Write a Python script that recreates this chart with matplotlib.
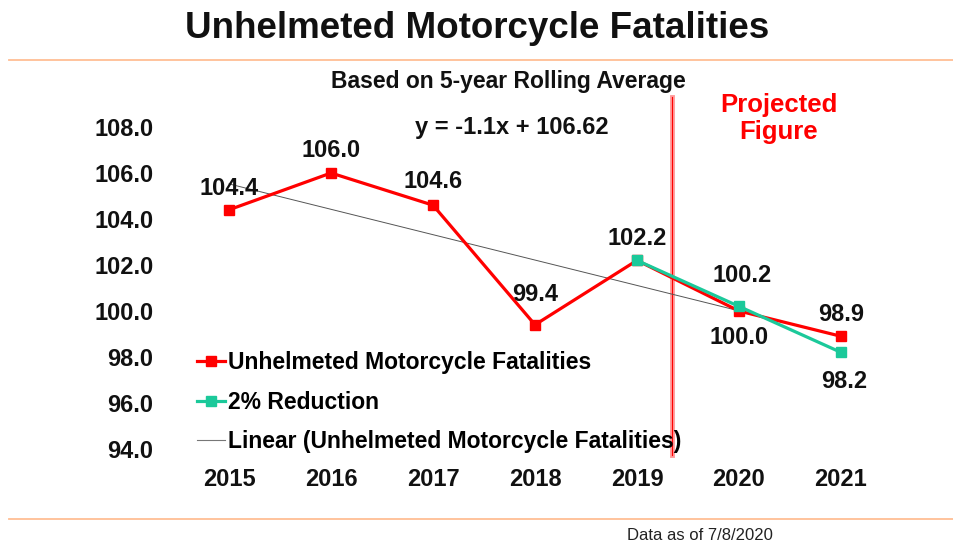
import matplotlib
matplotlib.use('Agg')
import matplotlib.pyplot as plt
import numpy as np
from matplotlib.lines import Line2D

plt.rcParams['font.family'] = ['Liberation Sans', 'DejaVu Sans']

years = [2015, 2016, 2017, 2018, 2019, 2020, 2021]
fatalities = [104.4, 106.0, 104.6, 99.4, 102.2, 100.0, 98.9]
red_years = [2019, 2020, 2021]
reduction = [102.2, 100.2, 98.2]
y_ticks = [94.0, 96.0, 98.0, 100.0, 102.0, 104.0, 106.0, 108.0]

RED = '#FF0000'
TEAL = '#1BC99A'
ORANGE = '#FFBE94'

fig = plt.figure(figsize=(9.54, 5.46), dpi=100)
ax = fig.add_axes([0.1973, 0.1777, 0.727, 0.5897])

# linear trend fitted on the red series (x = 1..7 as in the spreadsheet)
xs = np.arange(1, len(years) + 1)
slope, icpt = np.polyfit(xs, fatalities, 1)
ax.plot(years, slope * xs + icpt, color='#555555', lw=0.7, zorder=2)

ax.plot(years, fatalities, color=RED, lw=2.3, marker='s', ms=6.5, zorder=3)
ax.plot(red_years, reduction, color=TEAL, lw=2.3, marker='s', ms=6.5, zorder=4)

# data labels
lab_kw = dict(textcoords='offset points', ha='center', va='center',
              fontsize=17, fontweight='bold', color='#111111', zorder=6)
above = [15, 16, 17, 22, 16, None, 16]
for yr, v, off in zip(years, fatalities, above):
    if off is None:
        ax.annotate(f'{v:.1f}', (yr, v), xytext=(0, -19), **lab_kw)
    else:
        ax.annotate(f'{v:.1f}', (yr, v), xytext=(0, off), **lab_kw)
ax.annotate(f'{reduction[1]:.1f}', (red_years[1], reduction[1]), xytext=(2, 22), **lab_kw)
ax.annotate(f'{reduction[2]:.1f}', (red_years[2], reduction[2]), xytext=(2, -21), **lab_kw)

# projected divider
xdiv = 2019.343
ax.plot([xdiv, xdiv], [93.74, 109.3], color='#FF9A9A', lw=3.5, clip_on=False, zorder=1)
ax.plot([xdiv, xdiv], [93.74, 109.3], color=RED, lw=0.8, clip_on=False, zorder=1)

ax.set_xlim(2014.6, 2021.4)
ax.set_ylim(94, 108)
ax.set_xticks(years)
ax.set_xticklabels([str(y) for y in years])
ax.set_yticks(y_ticks)
ax.set_yticklabels([f'{t:.1f}' for t in y_ticks])
ax.tick_params(length=0, labelsize=17, colors='#111111')
ax.tick_params(axis='y', pad=25)
ax.tick_params(axis='x', pad=14)
for lbl in ax.get_xticklabels() + ax.get_yticklabels():
    lbl.set_fontweight('bold')
for s in ax.spines.values():
    s.set_visible(False)

handles = [
    Line2D([], [], color=RED, lw=2.3, marker='s', ms=6.5),
    Line2D([], [], color=TEAL, lw=2.3, marker='s', ms=6.5),
    Line2D([], [], color='#777777', lw=0.8),
]
labels = ['Unhelmeted Motorcycle Fatalities', '2% Reduction',
          'Linear (Unhelmeted Motorcycle Fatalities)']
fig.legend(handles, labels, loc='upper left', bbox_to_anchor=(0.207, 0.357),
           bbox_transform=fig.transFigure, frameon=False, borderpad=0,
           borderaxespad=0, handlelength=1.2, handletextpad=0.12,
           labelspacing=0.72, prop={'size': 16.5, 'weight': 'bold'})

fig.text(0.5, 0.947, 'Unhelmeted Motorcycle Fatalities', ha='center', va='center',
         fontsize=26.5, fontweight='bold', color='#111111')
fig.text(0.533, 0.851, 'Based on 5-year Rolling Average', ha='center', va='center',
         fontsize=16.5, fontweight='bold', color='#111111')
fig.text(0.537, 0.767, 'y = -1.1x + 106.62', ha='center', va='center',
         fontsize=17, fontweight='bold', color='#111111')
fig.text(0.816, 0.783, 'Projected\nFigure', ha='center', va='center',
         fontsize=18.5, fontweight='bold', color=RED, linespacing=1.15)
fig.text(0.734, 0.02, 'Data as of 7/8/2020', ha='center', va='center',
         fontsize=12, color='#222222')

fig.add_artist(Line2D([0.009, 1.0], [1 - 60 / 546, 1 - 60 / 546], color=ORANGE, lw=1.3,
                      transform=fig.transFigure))
fig.add_artist(Line2D([0.009, 1.0], [1 - 519 / 546, 1 - 519 / 546], color=ORANGE, lw=1.3,
                      transform=fig.transFigure))

fig.savefig('out.png', dpi=100)
